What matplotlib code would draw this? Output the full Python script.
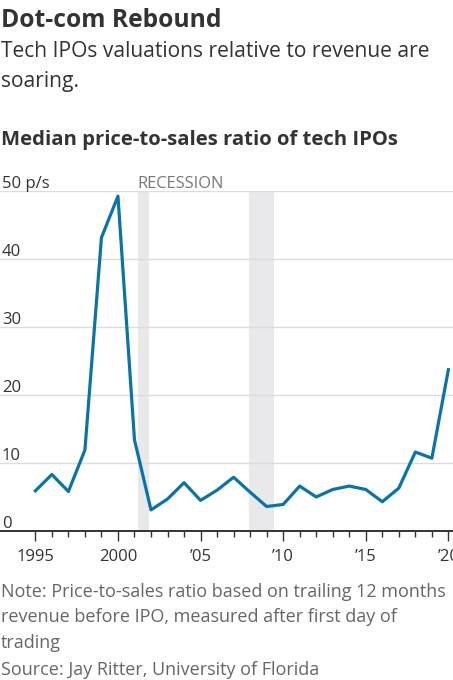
import matplotlib.pyplot as plt
from matplotlib.transforms import offset_copy

# data
years = list(range(1995, 2021))
ratio = [5.9, 8.3, 5.8, 11.9, 43.1, 49.2, 13.4, 3.1, 4.7, 7.1, 4.5, 6.0, 7.9,
         5.7, 3.6, 3.9, 6.6, 5.0, 6.1, 6.6, 6.1, 4.3, 6.3, 11.6, 10.7, 23.7]
recessions = [(2001.2, 2001.9), (2007.95, 2009.45)]
ytick_vals = [0, 10, 20, 30, 40, 50]
ytick_labels = ["0", "10", "20", "30", "40", "50 p/s"]
xtick_major = [1995, 2000, 2005, 2010, 2015, 2020]
xtick_labels = ["1995", "2000", "\u201905", "\u201910", "\u201915", "\u201920"]

W, H = 453, 680
plt.rcParams["font.family"] = ["Open Sans", "DejaVu Sans"]

fig = plt.figure(figsize=(W / 100, H / 100), dpi=100)

def fx(px):
    return px / W

def fy(py):
    return 1 - py / H

# axes placed in pixel terms: baseline at y=531, 50-line at y=190.7
ax = fig.add_axes([0, fy(531), 1, (531 - 190.7) / H])
ax.set_xlim(1992.86, 2020.28)
ax.set_ylim(0, 50)

for a, b in recessions:
    ax.axvspan(a, b, color="#e9e9eb", lw=0, zorder=0)

for v in ytick_vals[1:]:
    ax.axhline(v, color="#dcdcdc", lw=1, zorder=1)

ax.plot(years, ratio, color="#0b74a6", lw=2.3, solid_joinstyle="round", zorder=3, clip_on=False)

# y labels sit on the gridlines, left aligned
trans = offset_copy(ax.transData, fig=fig, x=0, y=3, units="dots")
for v, lab in zip(ytick_vals, ytick_labels):
    ax.text(1992.86 + 0.12, v, lab, transform=trans, ha="left", va="baseline",
            fontsize=12, color="#333333", zorder=4)

ax.text(2001.2, 50, "RECESSION", transform=trans, ha="left", va="baseline",
        fontsize=11.8, color="#777777")

for s in ["left", "right", "top"]:
    ax.spines[s].set_visible(False)
ax.spines["bottom"].set_color("#333333")
ax.spines["bottom"].set_linewidth(1.4)
ax.set_yticks([])
ax.set_xticks(xtick_major)
ax.set_xticklabels(xtick_labels)
ax.set_xticks(years, minor=True)
ax.tick_params(axis="x", which="major", length=7, width=1, color="#333333",
               labelsize=12, labelcolor="#333333", pad=6)
ax.tick_params(axis="x", which="minor", length=4, width=1, color="#333333")

# header texts
fig.text(fx(1), fy(27), "Dot-com Rebound", fontsize=17.7, fontweight="bold",
         color="#333333", va="baseline")
fig.text(fx(1), fy(56.7), "Tech IPOs valuations relative to revenue are",
         fontsize=15.1, color="#333333", va="baseline")
fig.text(fx(1), fy(87), "soaring.", fontsize=15.1, color="#333333", va="baseline")
fig.text(fx(1), fy(145), "Median price-to-sales ratio of tech IPOs", fontsize=14.6,
         fontweight="bold", color="#333333", va="baseline")

# footnotes
notes = ["Note: Price-to-sales ratio based on trailing 12 months",
         "revenue before IPO, measured after first day of",
         "trading",
         "Source: Jay Ritter, University of Florida"]
for yy, t in zip([596.7, 622.3, 648.3, 675], notes):
    fig.text(fx(1), fy(yy), t, fontsize=13, color="#666666", va="baseline")

fig.savefig("out.png", dpi=100)
